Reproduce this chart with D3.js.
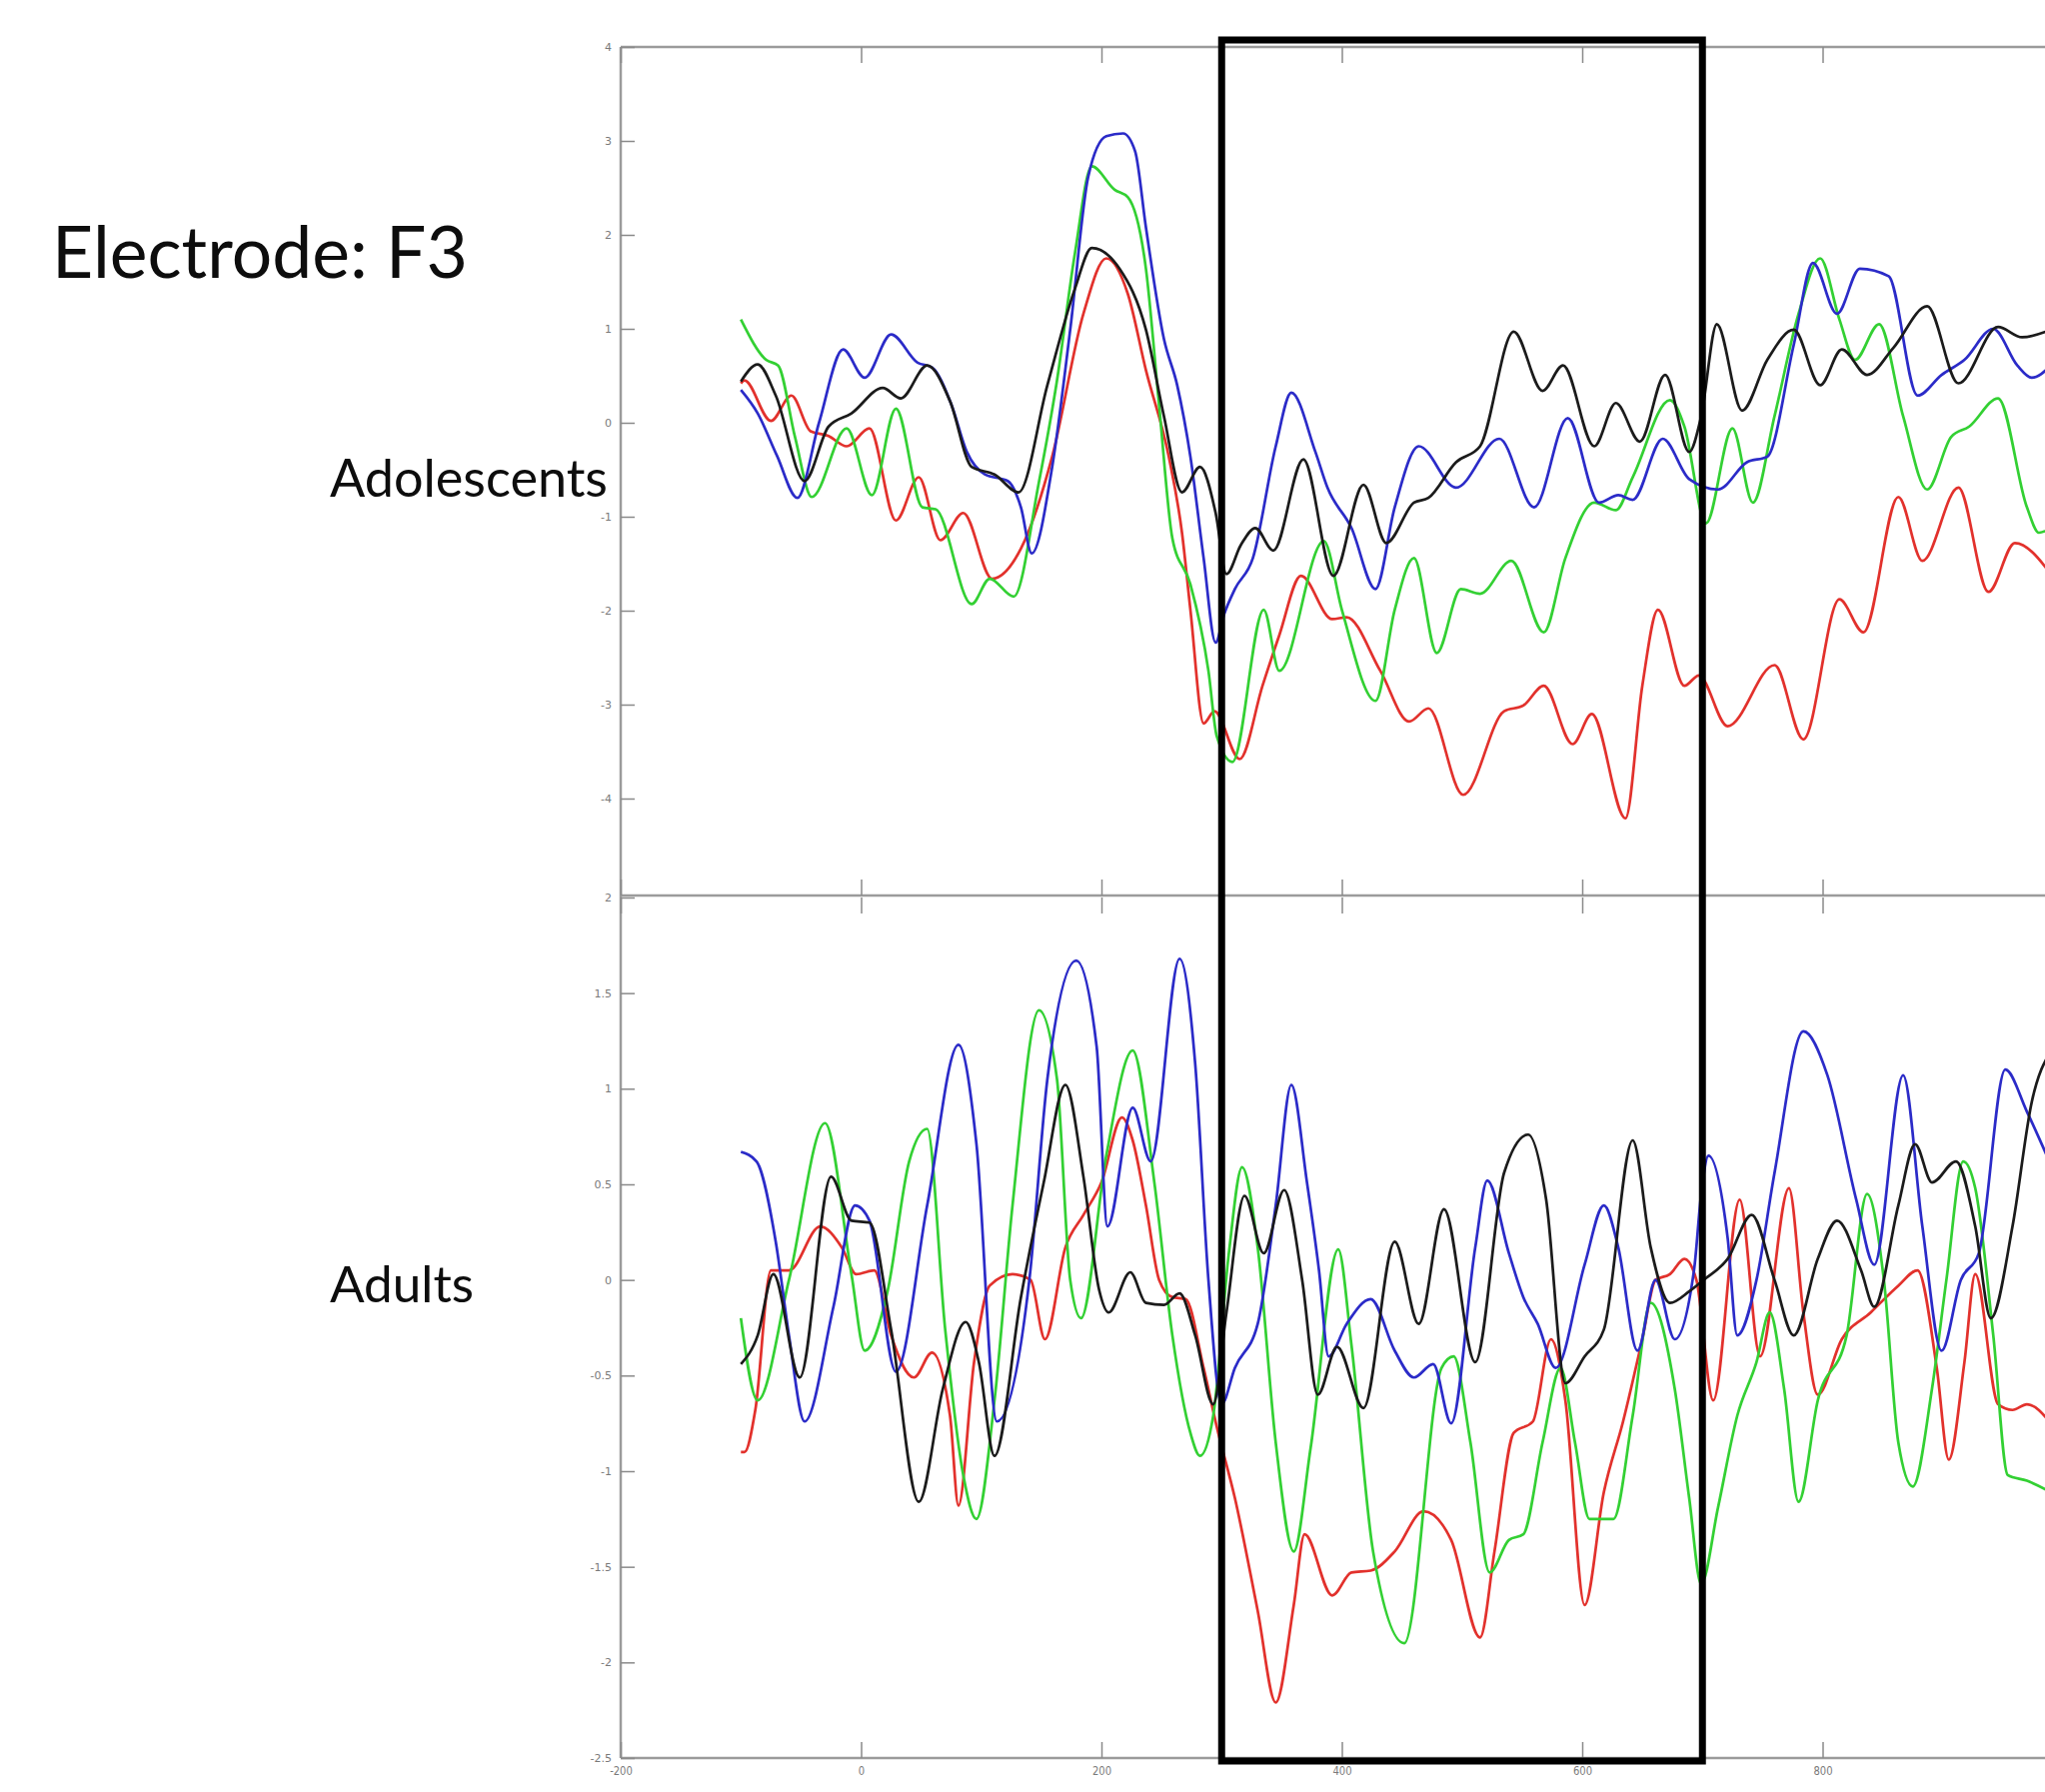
<!DOCTYPE html>
<html>
<head>
<meta charset="utf-8">
<script src="https://cdn.jsdelivr.net/npm/d3@7"></script>
<style>
  body { margin: 0; background: #fff; }
  svg { display: block; }
  .tick text { font-family: "DejaVu Sans", sans-serif; font-size: 11px; fill: #7a7a7a; }
  .tick line { stroke: #8a8a8a; stroke-width: 1.5; }
</style>
</head>
<body>
<svg id="chart"></svg>
<script>
// ERP traces, electrode F3 : [time ms, amplitude]
var adoRed = [[-100,0.42],[-97,0.45],[-75,0.02],[-58,0.29],[-42,-0.09],[-27,-0.14],[-12,-0.25],[7,-0.06],[29,-1.04],[48,-0.58],[66,-1.25],[85,-0.96],[109,-1.66],[133,-1.34],[159,-0.36],[185,1.16],[204,1.75],[222,1.37],[237,0.56],[256,-0.36],[267,-1.17],[274,-1.99],[285,-3.2],[294,-3.07],[315,-3.58],[334,-2.8],[348,-2.26],[366,-1.63],[392,-2.09],[404,-2.07],[432,-2.64],[456,-3.18],[472,-3.04],[501,-3.96],[535,-3.07],[551,-3.01],[568,-2.8],[592,-3.42],[608,-3.1],[636,-4.21],[650,-2.8],[663,-1.99],[685,-2.8],[697,-2.69],[721,-3.23],[760,-2.58],[784,-3.37],[814,-1.88],[834,-2.23],[863,-0.79],[883,-1.47],[913,-0.69],[938,-1.8],[960,-1.28],[990,-1.61]];
var adoGreen = [[-100,1.1],[-79,0.67],[-69,0.61],[-55,-0.15],[-41,-0.79],[-12,-0.06],[9,-0.77],[29,0.15],[51,-0.9],[62,-0.92],[92,-1.93],[107,-1.66],[127,-1.85],[148,-0.63],[163,0.45],[178,1.81],[192,2.73],[211,2.48],[222,2.4],[237,1.64],[248,0.18],[259,-1.23],[274,-1.72],[289,-2.64],[296,-3.34],[309,-3.61],[335,-1.99],[348,-2.64],[385,-1.26],[400,-1.99],[428,-2.96],[444,-1.99],[460,-1.44],[479,-2.45],[499,-1.77],[515,-1.82],[541,-1.47],[568,-2.23],[586,-1.44],[610,-0.85],[628,-0.93],[642,-0.58],[673,0.24],[685,-0.04],[703,-1.07],[725,-0.06],[742,-0.85],[760,0.07],[780,1.16],[798,1.75],[814,1.1],[827,0.67],[847,1.05],[867,0.07],[887,-0.71],[907,-0.15],[922,-0.04],[946,0.26],[970,-0.9],[980,-1.17],[990,-1.12]];
var adoBlue = [[-100,0.35],[-86,0.1],[-70,-0.35],[-53,-0.8],[-35,0],[-15,0.78],[3,0.48],[25,0.94],[47,0.64],[59,0.59],[75,0.2],[88,-0.31],[103,-0.55],[122,-0.62],[133,-0.9],[142,-1.39],[159,-0.47],[174,0.99],[189,2.62],[204,3.05],[218,3.08],[228,2.89],[237,2.08],[252,0.89],[263,0.4],[274,-0.36],[285,-1.44],[295,-2.34],[302,-2.04],[311,-1.77],[326,-1.44],[345,-0.25],[358,0.32],[378,-0.31],[388,-0.69],[408,-1.12],[428,-1.77],[444,-0.9],[464,-0.25],[495,-0.69],[531,-0.17],[560,-0.9],[588,0.05],[614,-0.85],[630,-0.77],[642,-0.82],[667,-0.17],[689,-0.6],[713,-0.71],[737,-0.42],[754,-0.36],[776,0.83],[792,1.7],[812,1.16],[831,1.64],[855,1.56],[879,0.29],[899,0.51],[918,0.67],[942,1.0],[962,0.61],[974,0.48],[990,0.61]];
var adoBlack = [[-100,0.44],[-86,0.62],[-71,0.29],[-47,-0.62],[-27,-0.04],[-8,0.1],[18,0.37],[33,0.26],[55,0.61],[74,0.23],[92,-0.47],[111,-0.55],[131,-0.74],[155,0.4],[178,1.43],[192,1.86],[215,1.64],[237,0.99],[252,0.07],[267,-0.74],[282,-0.47],[295,-0.96],[304,-1.61],[316,-1.3],[328,-1.12],[343,-1.36],[368,-0.39],[393,-1.63],[418,-0.66],[437,-1.28],[460,-0.85],[472,-0.8],[495,-0.42],[515,-0.25],[543,0.97],[567,0.34],[584,0.61],[610,-0.25],[628,0.21],[648,-0.2],[669,0.51],[689,-0.31],[699,0.07],[712,1.05],[733,0.13],[754,0.67],[776,0.99],[798,0.4],[816,0.78],[837,0.51],[859,0.8],[887,1.24],[913,0.42],[946,1.02],[966,0.91],[990,0.99]];

var adlRed = [[-100,-0.9],[-97,-0.9],[-88,-0.68],[-75,0.05],[-60,0.05],[-34,0.28],[-16,0.17],[-4,0.03],[11,0.05],[25,-0.29],[44,-0.51],[59,-0.38],[74,-0.71],[81,-1.18],[94,-0.43],[107,-0.03],[126,0.03],[141,0],[153,-0.31],[170,0.17],[185,0.34],[200,0.51],[217,0.85],[226,0.73],[237,0.39],[248,0],[259,-0.09],[270,-0.1],[285,-0.46],[296,-0.77],[311,-1.14],[330,-1.73],[345,-2.21],[360,-1.7],[369,-1.33],[392,-1.65],[408,-1.53],[424,-1.52],[444,-1.42],[468,-1.21],[491,-1.36],[515,-1.87],[527,-1.42],[543,-0.8],[559,-0.74],[574,-0.31],[586,-0.63],[602,-1.7],[618,-1.11],[634,-0.74],[650,-0.31],[661,0],[673,0.03],[685,0.11],[695,0],[709,-0.63],[731,0.42],[748,-0.4],[772,0.48],[784,-0.17],[796,-0.6],[816,-0.31],[840,-0.17],[863,-0.03],[879,0.05],[895,-0.46],[905,-0.94],[918,-0.43],[927,0.03],[946,-0.65],[958,-0.68],[970,-0.65],[990,-0.75]];
var adlGreen = [[-100,-0.2],[-86,-0.63],[-60,0],[-30,0.82],[-8,0.03],[3,-0.37],[22,-0.06],[40,0.62],[55,0.79],[70,-0.26],[85,-1.02],[96,-1.25],[111,-0.63],[126,0.39],[148,1.41],[163,1.05],[174,0],[183,-0.2],[204,0.65],[226,1.2],[244,0.51],[259,-0.29],[274,-0.8],[282,-0.92],[293,-0.71],[306,0.14],[317,0.59],[330,0.17],[345,-0.85],[360,-1.42],[374,-0.88],[397,0.16],[408,-0.34],[426,-1.42],[452,-1.9],[483,-0.46],[493,-0.4],[507,-0.85],[523,-1.53],[539,-1.36],[551,-1.33],[567,-0.85],[582,-0.46],[594,-0.85],[606,-1.25],[626,-1.25],[642,-0.71],[657,-0.12],[677,-0.57],[689,-1.14],[699,-1.59],[713,-1.19],[729,-0.71],[745,-0.43],[756,-0.17],[768,-0.57],[780,-1.16],[796,-0.63],[820,-0.29],[837,0.45],[851,0],[863,-0.85],[875,-1.08],[891,-0.57],[903,0],[917,0.62],[927,0.48],[942,-0.29],[954,-1.02],[970,-1.05],[990,-1.11]];
var adlBlue = [[-100,0.67],[-87,0.62],[-71,0.2],[-60,-0.29],[-47,-0.74],[-23,-0.14],[-5,0.39],[7,0.31],[29,-0.48],[55,0.39],[81,1.23],[96,0.71],[113,-0.74],[140,0],[155,1.05],[179,1.67],[196,1.22],[205,0.28],[226,0.9],[241,0.62],[265,1.68],[278,1.13],[289,0],[300,-0.65],[311,-0.46],[330,-0.23],[345,0.39],[358,1.02],[371,0.51],[381,0.05],[389,-0.4],[404,-0.23],[424,-0.1],[444,-0.37],[460,-0.51],[476,-0.44],[491,-0.75],[511,0.17],[521,0.52],[539,0.14],[551,-0.09],[563,-0.23],[578,-0.46],[602,0.08],[618,0.39],[630,0.17],[646,-0.37],[661,0],[677,-0.31],[693,0.05],[699,0.45],[705,0.65],[721,0.22],[729,-0.29],[745,0],[760,0.56],[784,1.3],[804,1.07],[828,0.42],[843,0.08],[867,1.07],[883,0.28],[899,-0.37],[915,0],[930,0.14],[952,1.1],[970,0.88],[990,0.6]];
var adlBlack = [[-100,-0.44],[-86,-0.29],[-73,0.03],[-51,-0.51],[-25,0.54],[-8,0.31],[7,0.3],[25,-0.26],[48,-1.16],[68,-0.57],[87,-0.22],[98,-0.43],[111,-0.92],[133,-0.09],[152,0.51],[170,1.02],[185,0.54],[198,-0.05],[206,-0.17],[224,0.04],[237,-0.12],[252,-0.13],[265,-0.07],[278,-0.29],[293,-0.65],[304,-0.17],[319,0.44],[335,0.14],[352,0.47],[367,0],[380,-0.6],[396,-0.35],[418,-0.67],[444,0.2],[464,-0.23],[485,0.37],[511,-0.43],[535,0.56],[555,0.76],[570,0.42],[586,-0.54],[602,-0.4],[618,-0.26],[642,0.73],[657,0.17],[673,-0.12],[689,-0.06],[701,0],[721,0.11],[741,0.34],[760,0],[776,-0.29],[796,0.11],[812,0.31],[832,0.05],[843,-0.14],[863,0.39],[877,0.71],[891,0.51],[911,0.62],[927,0.28],[940,-0.2],[958,0.28],[974,0.93],[990,1.2]];

var xTicks = [-200, 0, 200, 400, 600, 800];
var adoYTicks = [4, 3, 2, 1, 0, -1, -2, -3, -4];
var adlYTicks = [2, 1.5, 1, 0.5, 0, -0.5, -1, -1.5, -2, -2.5];
var windowMs = [300, 700];
var colors = ["#e2312c", "#33d033", "#2b2bc8", "#1b1b1b"];

var width = 2046, height = 1793;
var svg = d3.select("#chart").attr("width", width).attr("height", height);
svg.append("rect").attr("width", width).attr("height", height).attr("fill", "#fff");

var x = d3.scaleLinear().domain([-200, 1000]).range([621, 2064]);
var yAdo = d3.scaleLinear().domain([-5, 4]).range([893, 47]);
var yAdl = d3.scaleLinear().domain([-2.5, 2]).range([1759, 898]);

function fmt(d) { return String(d); }

// frame
var frame = svg.append("g").attr("stroke", "#9b9b9b").attr("stroke-width", 2.5);
frame.append("line").attr("x1", 621).attr("x2", width).attr("y1", 47).attr("y2", 47);
frame.append("line").attr("x1", 621).attr("x2", width).attr("y1", 896).attr("y2", 896);
frame.append("line").attr("x1", 621).attr("x2", width).attr("y1", 1759).attr("y2", 1759);
frame.append("line").attr("x1", 621).attr("x2", 621).attr("y1", 47).attr("y2", 1759);

// y axes, ticks pointing inward
svg.append("g").attr("transform", "translate(621,0)")
  .call(d3.axisLeft(yAdo).tickValues(adoYTicks).tickSize(-14).tickPadding(9).tickFormat(fmt))
  .call(function (g) { g.select(".domain").remove(); });
svg.append("g").attr("transform", "translate(621,0)")
  .call(d3.axisLeft(yAdl).tickValues(adlYTicks).tickSize(-14).tickPadding(9).tickFormat(fmt))
  .call(function (g) { g.select(".domain").remove(); });

// x ticks on every horizontal edge
svg.append("g").attr("transform", "translate(0,47)")
  .call(d3.axisTop(x).tickValues(xTicks).tickSize(-16).tickFormat(""))
  .call(function (g) { g.select(".domain").remove(); });
svg.append("g").attr("transform", "translate(0,896)")
  .call(d3.axisBottom(x).tickValues(xTicks).tickSize(-16).tickFormat(""))
  .call(function (g) { g.select(".domain").remove(); });
svg.append("g").attr("transform", "translate(0,898)")
  .call(d3.axisTop(x).tickValues(xTicks).tickSize(-16).tickFormat(""))
  .call(function (g) { g.select(".domain").remove(); });
var xb = svg.append("g").attr("transform", "translate(0,1759)")
  .call(d3.axisBottom(x).tickValues(xTicks).tickSize(-16).tickPadding(6).tickFormat(fmt))
  .call(function (g) { g.select(".domain").remove(); });
xb.selectAll("text").style("font-size", "10px").attr("transform", "scale(1,1.3)");

// traces
function drawPanel(series, y) {
  var line = d3.line()
    .x(function (d) { return x(d[0]); })
    .y(function (d) { return y(d[1]); })
    .curve(d3.curveMonotoneX);
  svg.append("g").selectAll("path")
    .data(series)
    .enter()
    .append("path")
    .attr("d", line)
    .attr("fill", "none")
    .attr("stroke", function (d, i) { return colors[i]; })
    .attr("stroke-width", 2.7)
    .attr("stroke-linejoin", "round");
}
drawPanel([adoRed, adoGreen, adoBlue, adoBlack], yAdo);
drawPanel([adlRed, adlGreen, adlBlue, adlBlack], yAdl);

// analysis window box
svg.append("rect")
  .attr("x", x(windowMs[0])).attr("y", 40)
  .attr("width", x(windowMs[1]) - x(windowMs[0]))
  .attr("height", 1722)
  .attr("fill", "none").attr("stroke", "#000").attr("stroke-width", 7);

// labels, sized to the width they take in the slide
function label(txt, left, right, baseline) {
  var t = svg.append("text").text(txt)
    .attr("x", left).attr("y", baseline)
    .attr("font-family", "Lato, 'Open Sans', sans-serif")
    .attr("font-size", 60).attr("fill", "#0d0d0d");
  var w = t.node().getBBox().width;
  t.attr("font-size", 60 * (right - left) / w);
}
label("Electrode: F3", 52, 468, 278);
label("Adolescents", 330, 608, 497);
label("Adults", 330, 474, 1303);
</script>
</body>
</html>
